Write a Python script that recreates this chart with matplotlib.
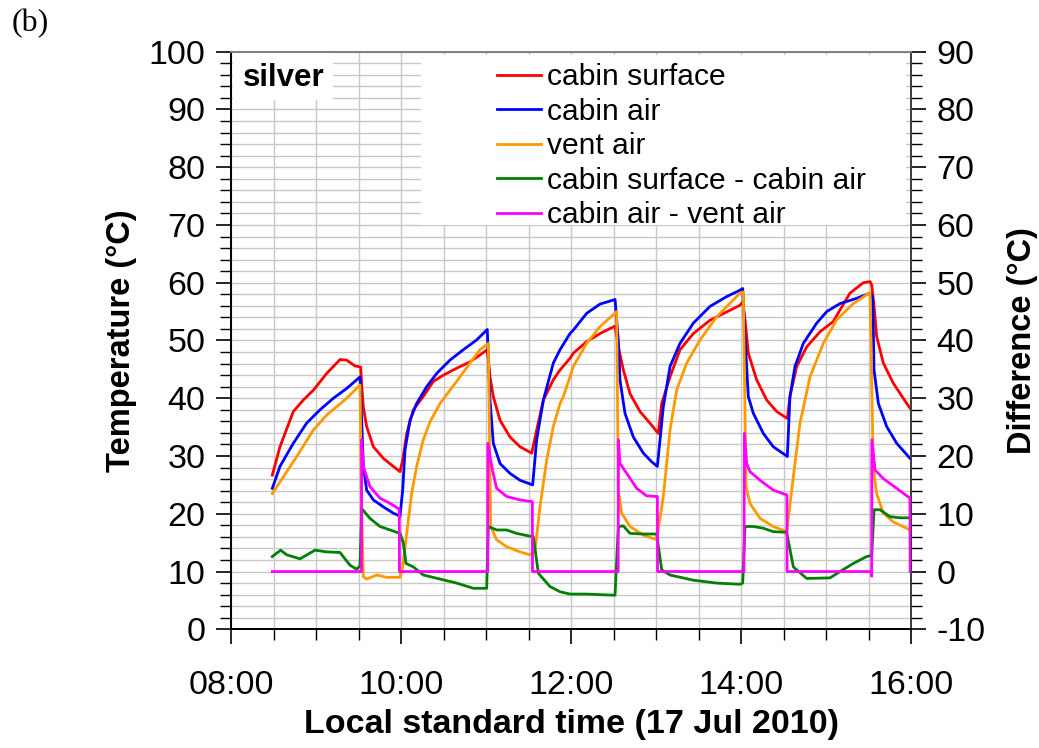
import matplotlib
matplotlib.use("Agg")
import matplotlib.pyplot as plt
from matplotlib.ticker import MultipleLocator, FixedLocator
from matplotlib.patches import Rectangle

# ---- data (time in decimal hours, local standard time, 17 Jul 2010) ----
surf_t = [8.486, 8.576, 8.733, 8.851, 8.969, 9.126, 9.282, 9.361, 9.459, 9.526, 9.538, 9.557, 9.596, 9.675,
          9.792, 9.91, 9.988, 10.02, 10.067, 10.145, 10.262, 10.38, 10.498, 10.655, 10.812, 10.929, 11.015,
          11.047, 11.086, 11.165, 11.282, 11.4, 11.538, 11.596, 11.675, 11.792, 11.871, 11.988, 12.027, 12.184,
          12.341, 12.518, 12.557, 12.616, 12.694, 12.812, 12.929, 13.027, 13.067, 13.165, 13.282, 13.439,
          13.635, 13.988, 14.02, 14.047, 14.086, 14.184, 14.302, 14.42, 14.545, 14.576, 14.655, 14.773,
          14.929, 15.086, 15.165, 15.282, 15.439, 15.518, 15.538, 15.565, 15.596, 15.674, 15.792, 15.909, 15.988]
surf_v = [26.7, 31.6, 37.7, 39.7, 41.4, 44.3, 46.7, 46.6, 45.6, 45.4, 42.0, 38.5, 35.1, 31.6,
          29.6, 28.2, 27.3, 29.3, 33.9, 38.0, 40.3, 42.9, 44.0, 45.2, 46.3, 47.5, 48.4,
          43.7, 40.3, 36.2, 33.3, 31.6, 30.5, 34.5, 39.7, 43.2, 44.9, 46.9, 47.8, 49.8,
          51.2, 52.5, 48.9, 44.9, 40.8, 37.7, 35.7, 33.9, 39.1, 43.7, 48.4, 51.2,
          53.5, 56.1, 56.7, 53.6, 47.8, 43.2, 39.7, 37.7, 36.5, 40.3, 45.5, 48.9,
          51.5, 53.3, 55.3, 58.2, 60.0, 60.2, 59.6, 56.0, 50.7, 46.1, 42.6, 40.0, 38.3]

air_t = [8.486, 8.576, 8.733, 8.89, 9.047, 9.204, 9.361, 9.518, 9.538, 9.557, 9.596, 9.675, 9.792, 9.91,
         9.988, 10.02, 10.047, 10.106, 10.184, 10.302, 10.42, 10.576, 10.733, 10.89, 11.015, 11.047, 11.086,
         11.165, 11.282, 11.4, 11.549, 11.596, 11.675, 11.792, 11.871, 11.988, 12.027, 12.184, 12.341, 12.518,
         12.557, 12.576, 12.635, 12.733, 12.851, 12.949, 13.016, 13.086, 13.165, 13.282, 13.439, 13.635,
         13.831, 13.988, 14.02, 14.047, 14.086, 14.145, 14.263, 14.38, 14.518, 14.545, 14.576, 14.635,
         14.733, 14.89, 15.008, 15.165, 15.361, 15.518, 15.55, 15.565, 15.616, 15.714, 15.832, 15.988]
air_v = [24.4, 28.2, 32.2, 35.7, 38.0, 40.0, 41.7, 43.7, 36.0, 28.2, 24.1, 22.4, 21.2, 20.1,
         19.6, 24.1, 31.0, 36.2, 39.1, 42.0, 44.3, 46.6, 48.4, 50.1, 51.9, 39.7, 32.2,
         28.7, 27.0, 25.8, 25.0, 32.8, 39.7, 46.1, 48.4, 51.2, 51.8, 54.7, 56.3, 57.1,
         50.0, 43.2, 37.4, 33.3, 30.5, 29.0, 28.2, 38.5, 45.5, 49.5, 53.0, 55.9,
         57.6, 58.7, 59.0, 50.7, 40.3, 37.4, 33.9, 31.6, 30.2, 29.9, 40.3, 45.5,
         49.5, 53.0, 55.0, 56.4, 57.3, 58.2, 57.5, 44.9, 39.1, 35.1, 32.2, 29.6]

vent_t = [8.486, 8.616, 8.773, 8.969, 9.126, 9.361, 9.518, 9.538, 9.557, 9.596, 9.714, 9.831, 9.988,
          10.02, 10.067, 10.125, 10.184, 10.262, 10.341, 10.459, 10.576, 10.694, 10.812, 10.929, 11.027,
          11.055, 11.125, 11.243, 11.4, 11.518, 11.576, 11.635, 11.714, 11.792, 11.871, 11.91, 11.988,
          12.027, 12.184, 12.341, 12.537, 12.557, 12.596, 12.694, 12.851, 13.008, 13.086, 13.165, 13.243,
          13.361, 13.518, 13.714, 13.988, 14.027, 14.059, 14.106, 14.224, 14.38, 14.537, 14.616, 14.694,
          14.812, 14.968, 15.126, 15.321, 15.518, 15.557, 15.596, 15.674, 15.792, 15.988]
vent_v = [23.5, 26.4, 29.9, 34.5, 37.1, 40.0, 42.3, 20.0, 9.1, 8.7, 9.4, 9.0, 9.0,
          10.8, 16.6, 23.5, 28.2, 32.8, 35.9, 39.1, 41.4, 43.7, 46.1, 48.4, 49.5,
          17.8, 15.5, 14.3, 13.4, 12.9, 13.5, 21.2, 29.3, 35.1, 39.1, 40.3, 43.7,
          45.5, 49.5, 52.4, 55.0, 24.1, 20.1, 17.8, 16.3, 15.5, 23.0, 34.5, 41.4,
          46.1, 50.1, 54.1, 58.2, 58.4, 24.7, 21.8, 19.2, 17.8, 16.9, 26.4, 35.7,
          43.7, 49.5, 53.6, 56.4, 58.3, 27.6, 23.5, 20.1, 18.6, 17.2]

dsurf_t = [8.486, 8.584, 8.655, 8.812, 8.988, 9.126, 9.282, 9.4, 9.478, 9.518, 9.538, 9.635, 9.753, 9.871,
           9.988, 10.027, 10.059, 10.145, 10.262, 10.459, 10.655, 10.851, 11.008, 11.027, 11.125, 11.243,
           11.361, 11.557, 11.616, 11.753, 11.871, 11.988, 12.184, 12.341, 12.518, 12.557, 12.616, 12.694,
           12.851, 13.008, 13.067, 13.165, 13.439, 13.714, 13.988, 14.02, 14.047, 14.145, 14.263, 14.38,
           14.537, 14.616, 14.773, 15.047, 15.165, 15.321, 15.479, 15.538, 15.565, 15.635, 15.753, 15.871, 15.988]
dsurf_v = [2.6, 3.7, 2.9, 2.2, 3.7, 3.4, 3.3, 1.1, 0.4, 1.0, 10.9, 9.2, 7.8, 7.2,
           6.6, 5.0, 1.4, 0.8, -0.6, -1.3, -2.0, -2.9, -2.9, 7.8, 7.2, 7.2,
           6.6, 6.0, -0.3, -2.6, -3.5, -3.9, -3.9, -4.0, -4.1, 7.8, 7.9, 6.6,
           6.5, 6.5, 0.3, -0.6, -1.5, -2.0, -2.2, -2.0, 7.8, 7.8, 7.5, 6.9,
           6.8, 0.8, -1.2, -1.1, 0.0, 1.4, 2.6, 2.8, 10.7, 10.7, 9.5, 9.3, 9.3]

dvent_t = [8.486, 9.535, 9.537, 9.557, 9.635, 9.753, 9.871, 9.969, 9.98, 9.982, 11.02, 11.022, 11.067,
           11.125, 11.243, 11.4, 11.538, 11.545, 11.547, 12.555, 12.557, 12.576, 12.655, 12.773, 12.89,
           13.008, 13.016, 13.018, 14.035, 14.04, 14.067, 14.106, 14.224, 14.38, 14.529, 14.54, 14.542,
           15.535, 15.537, 15.54, 15.576, 15.674, 15.832, 15.988, 15.99]
dvent_v = [0.0, 0.0, 22.8, 18.2, 14.7, 12.7, 11.8, 10.9, 10.9, 0.0, 0.0, 22.2, 18.2,
           14.4, 13.0, 12.4, 12.1, 12.1, 0.0, 0.0, 22.8, 18.7, 17.0, 14.4, 13.1,
           13.0, 13.0, 0.0, 0.0, 23.9, 18.7, 17.3, 15.8, 14.1, 13.3, 13.3, 0.0,
           0.0, -0.8, 22.8, 17.6, 16.1, 14.4, 12.7, 0.0]

xtick_pos = [8, 10, 12, 14, 16]
xtick_labels = ["08:00", "10:00", "12:00", "14:00", "16:00"]
legend_labels = ["cabin surface", "cabin air", "vent air", "cabin surface - cabin air", "cabin air - vent air"]

# ---- figure ----
plt.rcParams["font.family"] = ["Liberation Sans", "DejaVu Sans"]
plt.rcParams["axes.unicode_minus"] = False
W, H = 1039, 748
fig = plt.figure(figsize=(W / 100, H / 100), dpi=100)
L, R, B, T = 231, 911, 629.3, 51.7
ax = fig.add_axes([L / W, 1 - B / H, (R - L) / W, (B - T) / H])
ax2 = ax.twinx()

ax.set_xlim(8, 16)
ax.set_ylim(0, 100)
ax2.set_ylim(-10, 90)

gcol = "#c8c8c8"
ax.set_axisbelow(True)
ax.xaxis.set_major_locator(FixedLocator(xtick_pos))
ax.set_xticklabels(xtick_labels)
ax.xaxis.set_minor_locator(MultipleLocator(0.5))
ax.yaxis.set_major_locator(MultipleLocator(10))
ax.yaxis.set_minor_locator(MultipleLocator(2))
ax.grid(True, which="both", color=gcol, lw=1.0)
ax2.yaxis.set_major_locator(MultipleLocator(10))
ax2.yaxis.set_minor_locator(MultipleLocator(2))

# white boxes behind label and legend
ax.add_patch(Rectangle(((233 - L) / (R - L), (B - 100) / (B - T)), (333 - 233) / (R - L), (100 - 53) / (B - T),
                       transform=ax.transAxes, facecolor="white", edgecolor="none", zorder=1.6))
ax.add_patch(Rectangle(((421 - L) / (R - L), (B - 225) / (B - T)), (906 - 421) / (R - L), (225 - 55) / (B - T),
                       transform=ax.transAxes, facecolor="white", edgecolor="none", zorder=1.6))

lw = 2.0
h1, = ax.plot(surf_t, surf_v, color="#ff0000", lw=lw, zorder=3)
h2, = ax.plot(air_t, air_v, color="#0000ff", lw=lw, zorder=3)
h3, = ax.plot(vent_t, vent_v, color="#ff9900", lw=lw, zorder=3)
h4, = ax2.plot(dsurf_t, dsurf_v, color="#008000", lw=lw, zorder=3)
h5, = ax2.plot(dvent_t, dvent_v, color="#ff00ff", lw=lw, zorder=3)

fs = 24.5
for a in (ax, ax2):
    a.tick_params(axis="both", which="major", labelsize=fs, length=11, width=1.2, direction="out")
    a.tick_params(axis="both", which="minor", length=8, width=1.0, direction="out")
ax.tick_params(axis="y", which="major", pad=7.5)
ax2.tick_params(axis="y", which="major", pad=7.5)
ax.tick_params(axis="x", which="major", pad=18)

for a in (ax, ax2):
    a.spines["left"].set_color("black")
    a.spines["bottom"].set_color("black")
    a.spines["top"].set_color("#808080")
    a.spines["right"].set_color("#404040")
    for s in a.spines.values():
        s.set_linewidth(1.4)

ax.set_ylabel("Temperature (°C)", fontsize=23.5, fontweight="bold", labelpad=8)
ax2.set_ylabel("Difference (°C)", fontsize=23.5, fontweight="bold", labelpad=15)
ax.set_xlabel("Local standard time (17 Jul 2010)", fontsize=fs, fontweight="bold", labelpad=6)

ax.text((243 - L) / (R - L), 1 - (78 - T) / (B - T), "silver", transform=ax.transAxes,
        fontsize=22.5, fontweight="bold", va="center", ha="left", zorder=5)

lfs = 21.6
fig.legend([h1, h2, h3, h4, h5], legend_labels, loc="upper left",
           bbox_to_anchor=(497 / W, 1 - 63 / H), frameon=False, fontsize=lfs,
           handlelength=1.45, handletextpad=0.23, labelspacing=0.22, borderpad=0, borderaxespad=0)

fig.text(12 / W, 1 - 24 / H, "(b)", fontsize=23, family="Liberation Serif", va="center", ha="left")

fig.savefig("out.png", dpi=100)
